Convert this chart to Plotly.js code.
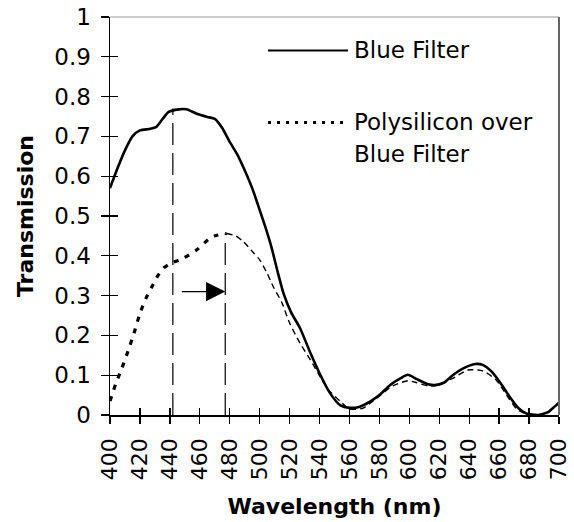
<!DOCTYPE html>
<html>
<head>
<meta charset="utf-8">
<script src="https://cdn.plot.ly/plotly-3.0.1.min.js"></script>
<style>html,body{margin:0;padding:0;background:#fff;}#chart{width:574px;height:522px;}</style>
</head>
<body>
<div id="chart"></div>
<script>
// Blue Filter transmission (solid)
const wlBlue = [400,405,410,415,420,427,431,435,439,446,451,458,465,470,475,480,485,490,495,500,504,508,512,516,521,527,534,540,547,554,560,567,574,580,587,594,599,605,612,617,623,629,636,644,649,655,661,667,673,678,686,693,697,700];
const tBlue  = [0.57,0.62,0.665,0.70,0.715,0.719,0.724,0.743,0.761,0.768,0.768,0.757,0.749,0.744,0.721,0.686,0.655,0.615,0.57,0.515,0.47,0.42,0.36,0.305,0.258,0.218,0.155,0.105,0.055,0.024,0.018,0.021,0.034,0.05,0.075,0.092,0.101,0.09,0.078,0.075,0.081,0.10,0.117,0.128,0.126,0.109,0.08,0.046,0.017,0.004,0.0,0.008,0.021,0.031];

// Polysilicon over Blue Filter transmission (dotted / dashed)
const wlPoly = [400,404,408,412,416,420,424,428,432,436,440,449,458,467,471,478,484,489,496,500,505,509,515,520,527,534,539,546,554,560,569,578,589,599,605,613,619,629,639,649,658,665,672,678,686,693,700];
const tPoly  = [0.035,0.08,0.118,0.16,0.205,0.255,0.293,0.322,0.35,0.37,0.38,0.394,0.415,0.445,0.451,0.456,0.45,0.436,0.407,0.39,0.356,0.323,0.281,0.231,0.18,0.138,0.105,0.063,0.034,0.015,0.017,0.042,0.073,0.086,0.081,0.073,0.075,0.092,0.113,0.111,0.088,0.05,0.014,0.004,0.0,0.008,0.03];
const polyBreak = 478; // style changes from dotted to thin dashed here

// Peak markers (vertical dashed lines) and shift arrow
const peakWl  = [442, 477];
const peakT   = [0.77, 0.456];
const arrowFrom = 447, arrowTo = 477, arrowT = 0.31;

// Axis ticks
const xTicks = [400,420,440,460,480,500,520,540,560,580,600,620,640,660,680,700];
const yTicks = [0,0.1,0.2,0.3,0.4,0.5,0.6,0.7,0.8,0.9,1];
const yTickText = ['0','0.1','0.2','0.3','0.4','0.5','0.6','0.7','0.8','0.9','1'];

// Legend labels
const seriesNames = ['Blue Filter', 'Polysilicon over', 'Blue Filter'];

const FONT = 'DejaVu Sans';

const iBreak = wlPoly.indexOf(polyBreak);
const traces = [
  {x: wlBlue, y: tBlue, mode: 'lines', name: 'Blue Filter',
   line: {color: '#000', width: 2.6, shape: 'spline', smoothing: 0.6}},
  {x: wlPoly.slice(0, iBreak + 1), y: tPoly.slice(0, iBreak + 1), mode: 'lines', name: 'Polysilicon over Blue Filter',
   line: {color: '#000', width: 3.2, dash: '5px,7px', shape: 'spline', smoothing: 0.6}},
  {x: wlPoly.slice(iBreak), y: tPoly.slice(iBreak), mode: 'lines', name: 'Polysilicon over Blue Filter (cont.)',
   line: {color: '#000', width: 1.4, dash: '6px,4px', shape: 'spline', smoothing: 0.6}},
  {x: wlBlue, y: tBlue, xaxis: 'x2', yaxis: 'y2', mode: 'none', hoverinfo: 'skip', showlegend: false}
];

const shapes = [];
for (let i = 0; i < peakWl.length; i++) {
  shapes.push({type: 'line', xref: 'x', yref: 'y', x0: peakWl[i], x1: peakWl[i], y0: 0, y1: peakT[i],
    line: {color: '#000', width: 1.2, dash: '22px,8px'}});
}
// frame (top & right)
shapes.push({type: 'line', xref: 'paper', yref: 'paper', x0: 0, x1: 1, y0: 1, y1: 1, line: {color: '#999', width: 1}});
shapes.push({type: 'line', xref: 'paper', yref: 'paper', x0: 1, x1: 1, y0: 0, y1: 1, line: {color: '#666', width: 2}});
// legend samples
shapes.push({type: 'line', xref: 'x', yref: 'y', x0: 505.6, x1: 559, y0: 0.916, y1: 0.916, line: {color: '#000', width: 2}});
shapes.push({type: 'line', xref: 'x', yref: 'y', x0: 505.6, x1: 559, y0: 0.735, y1: 0.735, line: {color: '#000', width: 3, dash: '3px,6px'}});

const annotations = [
  {x: arrowTo, y: arrowT, ax: arrowFrom, ay: arrowT, axref: 'x', ayref: 'y', xref: 'x', yref: 'y',
   text: '', showarrow: true, arrowhead: 2, arrowsize: 3.2, arrowwidth: 1.2, arrowcolor: '#000'},
  {x: 561.7, y: 0.916, xref: 'x', yref: 'y', text: seriesNames[0], showarrow: false, xanchor: 'left', yanchor: 'middle',
   font: {family: FONT, size: 23, color: '#000'}},
  {x: 561.7, y: 0.735, xref: 'x', yref: 'y', text: seriesNames[1], showarrow: false, xanchor: 'left', yanchor: 'middle',
   font: {family: FONT, size: 23, color: '#000'}},
  {x: 561.7, y: 0.657, xref: 'x', yref: 'y', text: seriesNames[2], showarrow: false, xanchor: 'left', yanchor: 'middle',
   font: {family: FONT, size: 23, color: '#000'}}
];

const layout = {
  width: 574, height: 522,
  margin: {l: 110, r: 15, t: 17, b: 107},
  paper_bgcolor: '#fff', plot_bgcolor: '#fff',
  showlegend: false,
  font: {family: FONT, color: '#000'},
  xaxis: {
    range: [400, 700], tickvals: xTicks, ticktext: xTicks.map(String),
    ticks: 'outside', ticklen: 7, tickwidth: 1.3, tickcolor: '#000', tickangle: -90,
    ticklabelstandoff: 6,
    tickfont: {family: FONT, size: 22, color: '#000'},
    showline: true, linecolor: '#000', linewidth: 1.5, showgrid: false, zeroline: false,
    title: {text: 'Wavelength (nm)', font: {family: FONT, size: 22, weight: 'bold', color: '#000'}, standoff: 19}
  },
  yaxis: {
    range: [0, 1], tickvals: yTicks, ticktext: yTickText,
    ticks: 'outside', ticklen: 8, tickwidth: 1.3, tickcolor: '#000',
    ticklabelstandoff: 5,
    tickfont: {family: FONT, size: 23, color: '#000'},
    showline: true, linecolor: '#000', linewidth: 1.5, showgrid: false, zeroline: false,
    title: {text: 'Transmission', font: {family: FONT, size: 22, weight: 'bold', color: '#000'}, standoff: 14}
  },
  xaxis2: {overlaying: 'x', range: [400, 700], tickvals: xTicks, ticks: 'inside', ticklen: 7, tickwidth: 1.3,
    tickcolor: '#000', showticklabels: false, showline: false, showgrid: false, zeroline: false, side: 'bottom'},
  yaxis2: {overlaying: 'y', range: [0, 1], tickvals: yTicks, ticks: 'inside', ticklen: 8, tickwidth: 1.3,
    tickcolor: '#000', showticklabels: false, showline: false, showgrid: false, zeroline: false, side: 'left'},
  shapes: shapes,
  annotations: annotations
};

Plotly.newPlot('chart', traces, layout, {displayModeBar: false, staticPlot: true});
</script>
</body>
</html>
